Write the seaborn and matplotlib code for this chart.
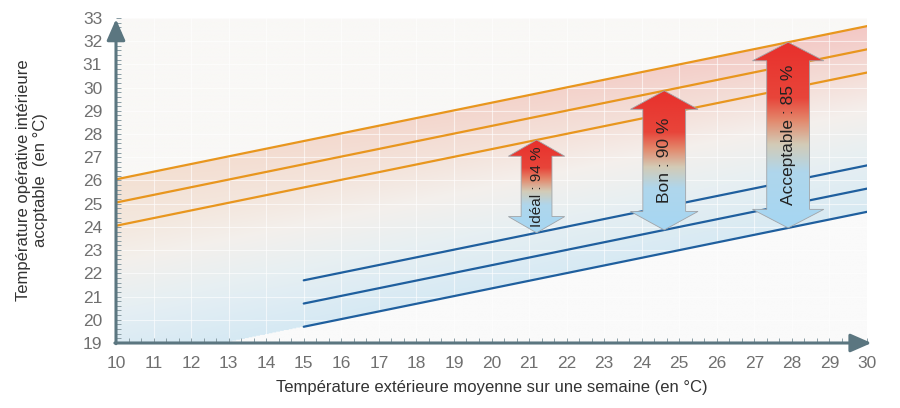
import numpy as np
import matplotlib
matplotlib.use('Agg')
import matplotlib.pyplot as plt
from matplotlib.colors import LinearSegmentedColormap, to_rgb
from matplotlib.patches import Polygon
from matplotlib.ticker import MultipleLocator
import seaborn as sns

# ======================
# DONNEES
# ======================
t_ext_haut = [10, 30]            # limites hautes (orange)
lim_sup_85 = [26.05, 32.65]
lim_sup_90 = [25.05, 31.65]
lim_sup_94 = [24.05, 30.65]

t_ext_bas = [15, 30]             # limites basses (bleu)
lim_inf_94 = [21.7, 26.65]
lim_inf_90 = [20.7, 25.65]
lim_inf_85 = [19.7, 24.65]

classes = ['Idéal : 94 %', 'Bon : 90 %', 'Acceptable : 85 %']
x_fleches = [21.2, 24.6, 27.9]

x_ticks = list(range(10, 31))
y_ticks = list(range(19, 34))

# styles
orange = '#e8961e'
bleu = '#1f5f9e'
axe = '#5b7680'
larg_tige = [0.41, 0.57, 0.57]
larg_tete = [0.75, 0.90, 0.95]
haut_tete = [0.70, 0.80, 0.80]
taille_txt = [11, 12.5, 12.5]

sns.set_style('white')
plt.rcParams['font.family'] = ['Liberation Sans', 'DejaVu Sans']

fig = plt.figure(figsize=(9, 4.08), dpi=100)
ax = fig.add_axes([116 / 900, 65 / 408, 751 / 900, 325 / 408])

# ======================
# FOND EN DEGRADE
# ======================
xs = np.linspace(10, 30, 600)
ys = np.linspace(19, 33, 400)
X, Y = np.meshgrid(xs, ys)
y_bas = np.polyval(np.polyfit(t_ext_bas, lim_inf_85, 1), X)
y_haut = np.polyval(np.polyfit(t_ext_haut, lim_sup_85, 1), X)
t = (Y - y_bas) / (y_haut - y_bas)

cm_g = LinearSegmentedColormap.from_list('g', [(0, '#d5e9f4'), (0.3, '#e6eff3'), (0.55, '#f3f0ec'),
                                               (0.75, '#f4e8de'), (1, '#f4e1d3')])
cm_d = LinearSegmentedColormap.from_list('d', [(0, '#d8eaf3'), (0.3, '#e7eff2'), (0.55, '#f5efec'),
                                               (0.75, '#f4ddd7'), (1, '#f3c8c5')])
tc = np.clip(t, 0, 1)
s = ((X - 10) / 20)[..., None]
img = cm_g(tc)[..., :3] * (1 - s) + cm_d(tc)[..., :3] * s
img[t > 1] = to_rgb('#f9f8f6')
img[t < 0] = to_rgb('#fafafa')
ax.imshow(img, extent=[10, 30, 19, 33], origin='lower', aspect='auto', zorder=0)

ax.set_xticks(x_ticks)
ax.set_yticks(y_ticks)
ax.grid(True, which='major', color='white', lw=0.8, alpha=0.6)

# ======================
# LIGNES LIMITES
# ======================
for v in [lim_sup_85, lim_sup_90, lim_sup_94]:
    sns.lineplot(x=t_ext_haut, y=v, color=orange, lw=1.6, ax=ax, zorder=2)
for v in [lim_inf_94, lim_inf_90, lim_inf_85]:
    sns.lineplot(x=t_ext_bas, y=v, color=bleu, lw=1.6, ax=ax, zorder=2)

# ======================
# FLECHES
# ======================
cm_f = LinearSegmentedColormap.from_list('f', [(0, '#a6d7f3'), (0.3, '#afd6ec'), (0.45, '#d3cbb6'),
                                               (0.58, '#e3886c'), (0.7, '#e8453a'), (1, '#e8302c')])
grad = cm_f(np.linspace(0, 1, 256))[:, None, :3]
paires = [(lim_inf_94, lim_sup_94), (lim_inf_90, lim_sup_90), (lim_inf_85, lim_sup_85)]
for i, (lab, x) in enumerate(zip(classes, x_fleches)):
    y0 = np.interp(x, t_ext_bas, paires[i][0])
    y1 = np.interp(x, t_ext_haut, paires[i][1])
    ws, wh, hh = larg_tige[i], larg_tete[i], haut_tete[i]
    pts = [(x - ws, y0 + hh), (x - wh, y0 + hh), (x, y0), (x + wh, y0 + hh), (x + ws, y0 + hh),
           (x + ws, y1 - hh), (x + wh, y1 - hh), (x, y1), (x - wh, y1 - hh), (x - ws, y1 - hh)]
    poly = Polygon(pts, closed=True, facecolor='none', edgecolor='#a0a4a8', lw=0.6, zorder=4)
    ax.add_patch(poly)
    im = ax.imshow(grad, extent=[x - wh, x + wh, y0, y1], origin='lower', aspect='auto', zorder=3)
    im.set_clip_path(poly)
    ax.text(x, (y0 + y1) / 2, lab, rotation=90, ha='center', va='center',
            fontsize=taille_txt[i], color='#222222', zorder=5)

# ======================
# AXES
# ======================
ax.set_xlim(10, 30)
ax.set_ylim(19, 33)
for sp in ax.spines.values():
    sp.set_visible(False)
ax.annotate('', xy=(10, 32.95), xytext=(10, 18.97),
            arrowprops=dict(arrowstyle='-|>,head_length=0.8,head_width=0.35', color=axe,
                            lw=2.2, mutation_scale=16, shrinkA=0, shrinkB=0), annotation_clip=False)
ax.annotate('', xy=(30.12, 19), xytext=(9.97, 19),
            arrowprops=dict(arrowstyle='-|>,head_length=0.8,head_width=0.35', color=axe,
                            lw=2.2, mutation_scale=16, shrinkA=0, shrinkB=0), annotation_clip=False)

ax.xaxis.set_minor_locator(MultipleLocator(1 / 3))
ax.yaxis.set_minor_locator(MultipleLocator(0.2))
ax.tick_params(which='both', direction='in', length=3.5, width=0.7, color='#8a9ea5',
               left=True, bottom=True)
ax.tick_params(which='major', labelsize=12.5, labelcolor='#707070')
ax.tick_params(axis='y', pad=10)
ax.tick_params(axis='x', pad=9)

ax.set_xlabel('Température extérieure moyenne sur une semaine (en °C)', fontsize=12, color='#333333')
ax.set_ylabel('Température opérative intérieure\naccptable  (en °C)', fontsize=12, color='#333333',
              ha='center', va='center', multialignment='center')
ax.xaxis.set_label_coords(0.5, -0.138)
ax.xaxis.label.set_va('center')
ax.yaxis.set_label_coords(-0.112, 0.5)

fig.savefig('out.png', dpi=100)
